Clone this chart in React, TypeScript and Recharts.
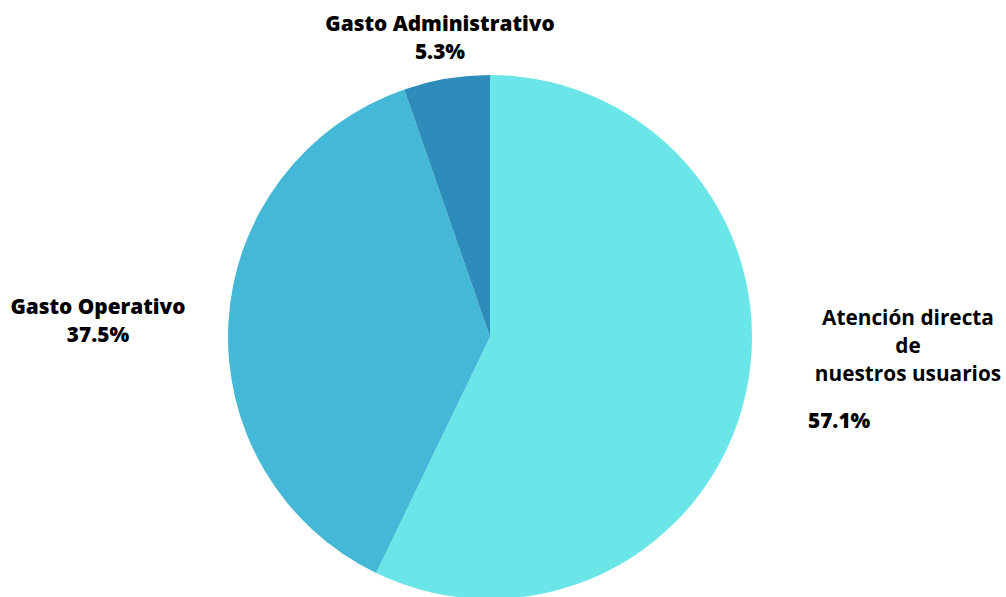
import { useEffect } from 'react';
import { PieChart, Pie, Cell } from 'recharts';

const categories = ['Atención directa de nuestros usuarios', 'Gasto Operativo', 'Gasto Administrativo'];
const labelLines = [['Atención directa', 'de', 'nuestros usuarios'], ['Gasto Operativo'], ['Gasto Administrativo']];
const values = [57.1, 37.5, 5.3];
const percentLabels = ['57.1%', '37.5%', '5.3%'];
const COLORS = ['#6ae5e8', '#44b8d6', '#2e8cba'];

const data = categories.map((name, i) => ({ name, value: values[i] }));

const FONT = '"Open Sans", sans-serif';
const FS = 20.8;

function renderLabel(props: any) {
  const { cx, cy, index } = props;
  const lines = labelLines[index];
  const pct = percentLabels[index];
  if (index === 0) {
    const x = cx + 418;
    return (
      <g>
        {lines.map((l, i) => (
          <text key={i} x={x} y={cy - 12 + i * 28} textAnchor="middle" fontFamily={FONT} fontSize={FS} fontWeight={700} fill="#000">
            {l}
          </text>
        ))}
        <text x={cx + 318} y={cy + 91} textAnchor="start" fontFamily={FONT} fontSize={FS} fontWeight={800} fill="#000">
          {pct}
        </text>
      </g>
    );
  }
  const pos = index === 1 ? { x: cx - 392, y: cy - 23 } : { x: cx - 50, y: cy - 306 };
  return (
    <g>
      <text x={pos.x} y={pos.y} textAnchor="middle" fontFamily={FONT} fontSize={FS} fontWeight={800} fill="#000">
        {lines[0]}
      </text>
      <text x={pos.x} y={pos.y + 28} textAnchor="middle" fontFamily={FONT} fontSize={FS} fontWeight={800} fill="#000">
        {pct}
      </text>
    </g>
  );
}

export default function App() {
  useEffect(() => {
    document.body.style.margin = '0';
  }, []);

  return (
    <div style={{ width: 1006, height: 597, background: '#fff' }}>
      <PieChart width={1006} height={597} margin={{ top: 0, right: 0, bottom: 0, left: 0 }}>
        <Pie
          data={data}
          dataKey="value"
          nameKey="name"
          cx={490}
          cy={337}
          outerRadius={262}
          startAngle={90}
          endAngle={-270}
          stroke="none"
          labelLine={false}
          label={renderLabel}
          isAnimationActive={false}
        >
          {data.map((d, i) => (
            <Cell key={d.name} fill={COLORS[i]} />
          ))}
        </Pie>
      </PieChart>
    </div>
  );
}
